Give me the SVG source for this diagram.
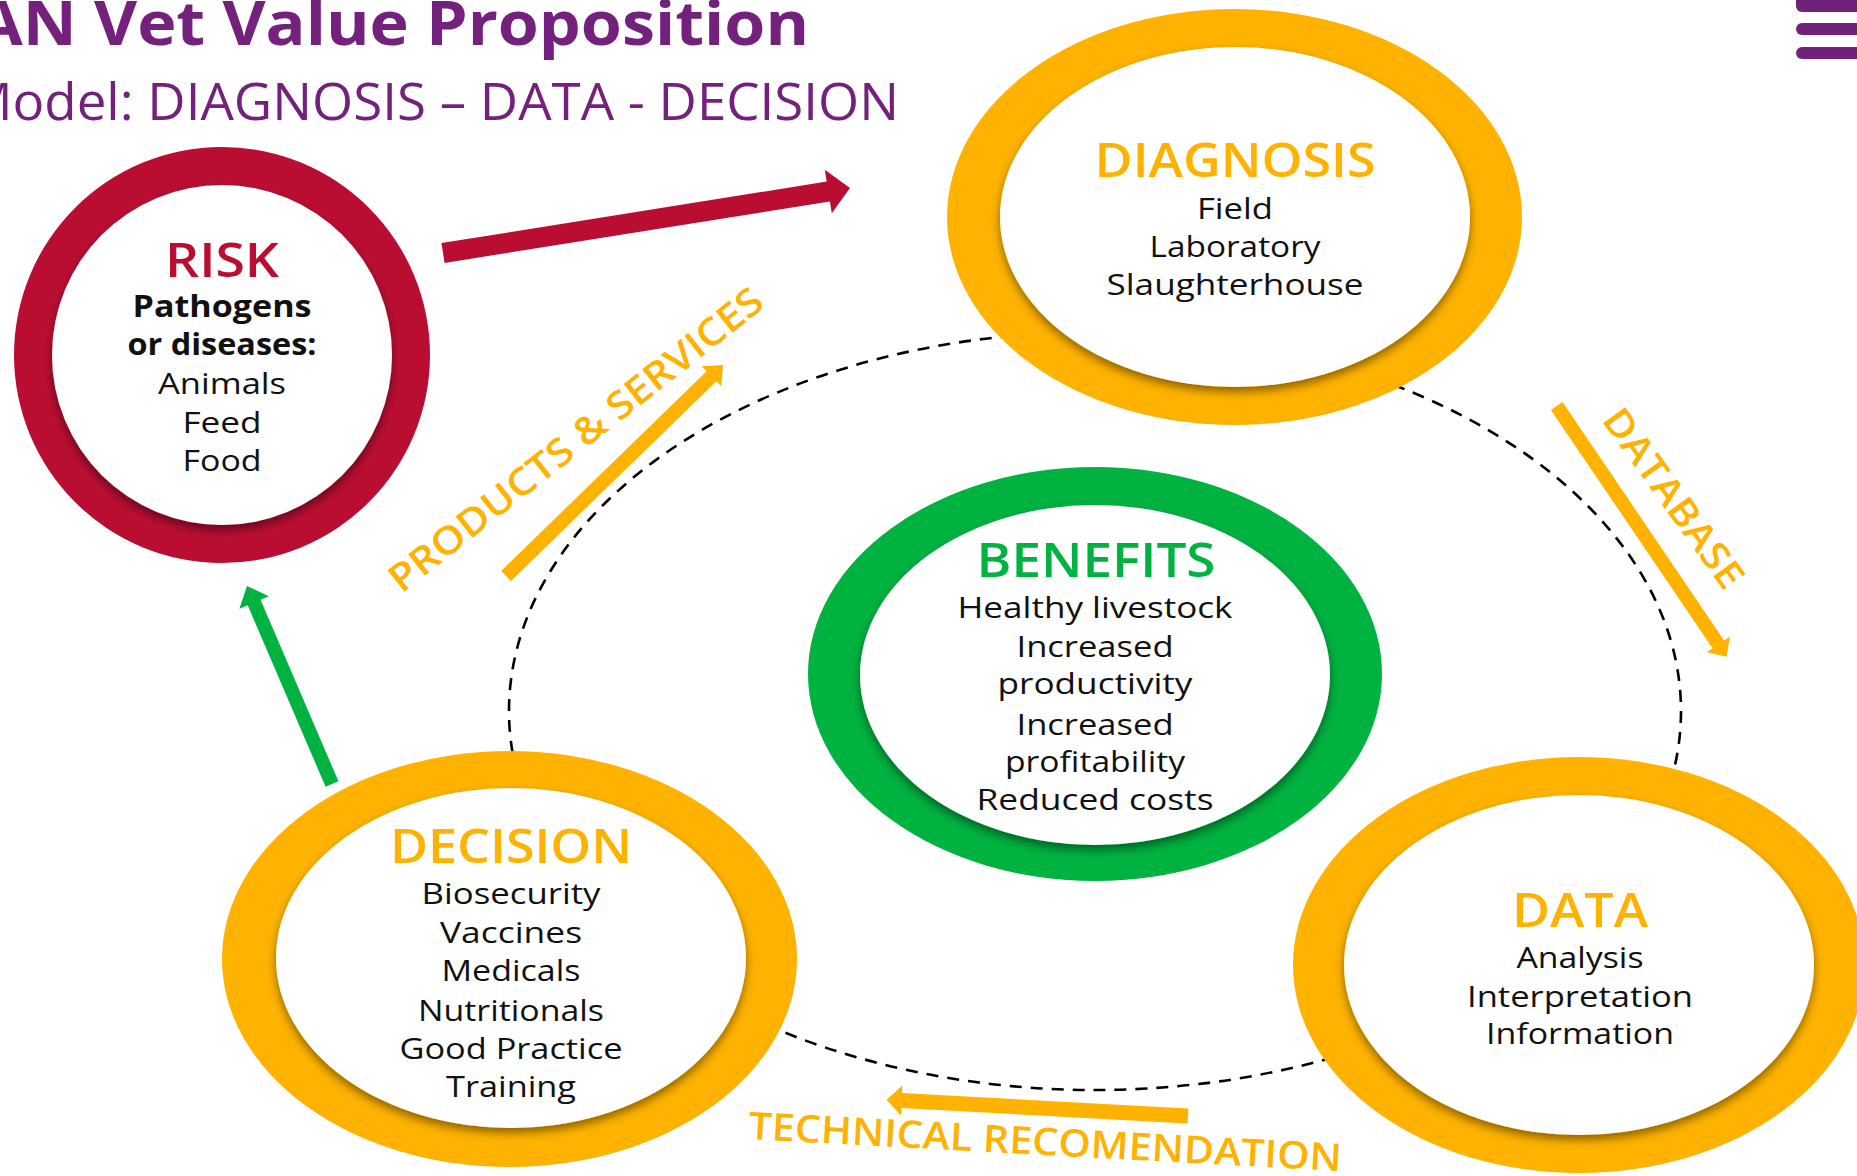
<svg xmlns="http://www.w3.org/2000/svg" width="1857" height="1176" viewBox="0 0 1857 1176">
  <style>
    text { font-family: "Open Sans", "Liberation Sans", sans-serif; text-anchor: middle; }
    .title { fill: #74217E; font-weight: 700; font-size: 60px; text-anchor: start; }
    .sub { fill: #74217E; font-weight: 400; font-size: 51px; text-anchor: start; }
    .head { font-weight: 600; font-size: 47px; }
    .body { fill: #111; font-size: 30px; font-weight: 400; }
    .bold { font-weight: 700; }
    .lbl { fill: #FFB300; font-size: 38px; font-weight: 600; }
    .ring-o { fill: #FFB300; }
    .ring-r { fill: #B90E31; }
    .ring-g { fill: #00B240; }
    .inner { fill: #FFFFFF; filter: url(#sh); }
    .dash { fill: none; stroke: #000; stroke-width: 2.6; stroke-dasharray: 12 9; }
  </style>
  <defs>
    <filter id="sh" x="-10%" y="-10%" width="120%" height="130%">
      <feDropShadow dx="0" dy="5" stdDeviation="5" flood-color="#000" flood-opacity="0.45"/>
    </filter>
  </defs>

  <rect x="0" y="0" width="1857" height="1176" fill="#FFFFFF"/>

  <g id="header">
    <text class="title" x="-23" y="45" textLength="832" lengthAdjust="spacingAndGlyphs">AN Vet Value Proposition</text>
    <text class="sub" x="-35" y="120" textLength="934" lengthAdjust="spacingAndGlyphs">Model: DIAGNOSIS – DATA - DECISION</text>
    <g fill="#6F2277">
      <rect x="1796" y="-6" width="80" height="18" rx="6"/>
      <rect x="1796" y="23" width="80" height="12" rx="6"/>
      <rect x="1796" y="47" width="80" height="12" rx="6"/>
    </g>
  </g>

  <g id="connectors">
    <ellipse class="dash" cx="1095" cy="711" rx="586" ry="379"/>
    <polygon fill="#B90E31" points="444.6,262.9 829.9,201.4 831.8,213.2 850,188 824.8,169.8 826.7,181.6 441.4,243.1"/>
    <polygon fill="#00B240" points="338.4,781.2 260.5,599.7 268.8,596.2 247,586 239.4,608.8 247.7,605.3 325.6,786.8"/>
    <polygon fill="#FFB300" points="510.9,581 716.4,381.2 721.3,386.2 723,365 701.7,366.2 706.6,371.2 501.1,571"/>
    <polygon fill="#FFB300" points="1550.9,409.9 1712.5,648.2 1706.7,652.2 1726.7,656.7 1729.9,636.4 1724.1,640.4 1562.5,402.1"/>
    <polygon fill="#FFB300" points="1188.4,1108.5 902,1093 902.4,1085.5 886.6,1099.7 900.8,1115.5 901.2,1108 1187.6,1123.5"/>
    <text class="lbl" transform="translate(584,450) rotate(-38.3)" x="0" y="0" textLength="465" lengthAdjust="spacingAndGlyphs">PRODUCTS &amp; SERVICES</text>
    <text class="lbl" transform="translate(1663,506) rotate(54.2)" x="0" y="0" textLength="212" lengthAdjust="spacingAndGlyphs">DATABASE</text>
    <text class="lbl" transform="translate(1044.5,1155) rotate(3.1)" x="0" y="0" textLength="594" lengthAdjust="spacingAndGlyphs">TECHNICAL RECOMENDATION</text>
  </g>

  <g id="risk">
    <circle class="ring-r" cx="222" cy="355" r="208"/>
    <circle class="inner" cx="222" cy="355" r="170"/>
    <text class="head" x="222" y="277" fill="#B90E31" textLength="114" lengthAdjust="spacingAndGlyphs">RISK</text>
    <text class="body bold" x="222" y="317" textLength="179" lengthAdjust="spacingAndGlyphs">Pathogens</text>
    <text class="body bold" x="222" y="355" textLength="189" lengthAdjust="spacingAndGlyphs">or diseases:</text>
    <text class="body" x="222" y="394" textLength="128" lengthAdjust="spacingAndGlyphs">Animals</text>
    <text class="body" x="222" y="433" textLength="79" lengthAdjust="spacingAndGlyphs">Feed</text>
    <text class="body" x="222" y="471" textLength="79" lengthAdjust="spacingAndGlyphs">Food</text>
  </g>

  <g id="diagnosis">
    <ellipse class="ring-o" cx="1234.5" cy="217" rx="287.5" ry="208"/>
    <ellipse class="inner" cx="1235" cy="217" rx="235" ry="170"/>
    <text class="head" x="1235" y="177" fill="#FFB300" textLength="281" lengthAdjust="spacingAndGlyphs">DIAGNOSIS</text>
    <text class="body" x="1235" y="219" textLength="76" lengthAdjust="spacingAndGlyphs">Field</text>
    <text class="body" x="1235" y="257" textLength="171" lengthAdjust="spacingAndGlyphs">Laboratory</text>
    <text class="body" x="1235" y="295" textLength="257" lengthAdjust="spacingAndGlyphs">Slaughterhouse</text>
  </g>

  <g id="benefits">
    <ellipse class="ring-g" cx="1095" cy="674" rx="287" ry="207"/>
    <ellipse class="inner" cx="1095" cy="675" rx="235" ry="170"/>
    <text class="head" x="1096" y="577" fill="#00B240" textLength="239" lengthAdjust="spacingAndGlyphs">BENEFITS</text>
    <text class="body" x="1095" y="618" textLength="275" lengthAdjust="spacingAndGlyphs">Healthy livestock</text>
    <text class="body" x="1095" y="657" textLength="157" lengthAdjust="spacingAndGlyphs">Increased</text>
    <text class="body" x="1095" y="694" textLength="195" lengthAdjust="spacingAndGlyphs">productivity</text>
    <text class="body" x="1095" y="735" textLength="157" lengthAdjust="spacingAndGlyphs">Increased</text>
    <text class="body" x="1095" y="772" textLength="180" lengthAdjust="spacingAndGlyphs">profitability</text>
    <text class="body" x="1095" y="810" textLength="237" lengthAdjust="spacingAndGlyphs">Reduced costs</text>
  </g>

  <g id="decision">
    <ellipse class="ring-o" cx="509.5" cy="959" rx="287.5" ry="208"/>
    <ellipse class="inner" cx="511" cy="958" rx="235" ry="170"/>
    <text class="head" x="511" y="863" fill="#FFB300" textLength="242" lengthAdjust="spacingAndGlyphs">DECISION</text>
    <text class="body" x="511" y="904" textLength="179" lengthAdjust="spacingAndGlyphs">Biosecurity</text>
    <text class="body" x="511" y="943" textLength="142" lengthAdjust="spacingAndGlyphs">Vaccines</text>
    <text class="body" x="511" y="981" textLength="139" lengthAdjust="spacingAndGlyphs">Medicals</text>
    <text class="body" x="511" y="1021" textLength="186" lengthAdjust="spacingAndGlyphs">Nutritionals</text>
    <text class="body" x="511" y="1059" textLength="223" lengthAdjust="spacingAndGlyphs">Good Practice</text>
    <text class="body" x="511" y="1097" textLength="130" lengthAdjust="spacingAndGlyphs">Training</text>
  </g>

  <g id="data">
    <ellipse class="ring-o" cx="1579" cy="965" rx="286" ry="208"/>
    <ellipse class="inner" cx="1579" cy="965" rx="235" ry="170"/>
    <text class="head" x="1580" y="927" fill="#FFB300" textLength="136" lengthAdjust="spacingAndGlyphs">DATA</text>
    <text class="body" x="1580" y="968" textLength="127" lengthAdjust="spacingAndGlyphs">Analysis</text>
    <text class="body" x="1580" y="1007" textLength="226" lengthAdjust="spacingAndGlyphs">Interpretation</text>
    <text class="body" x="1580" y="1044" textLength="188" lengthAdjust="spacingAndGlyphs">Information</text>
  </g>
</svg>
